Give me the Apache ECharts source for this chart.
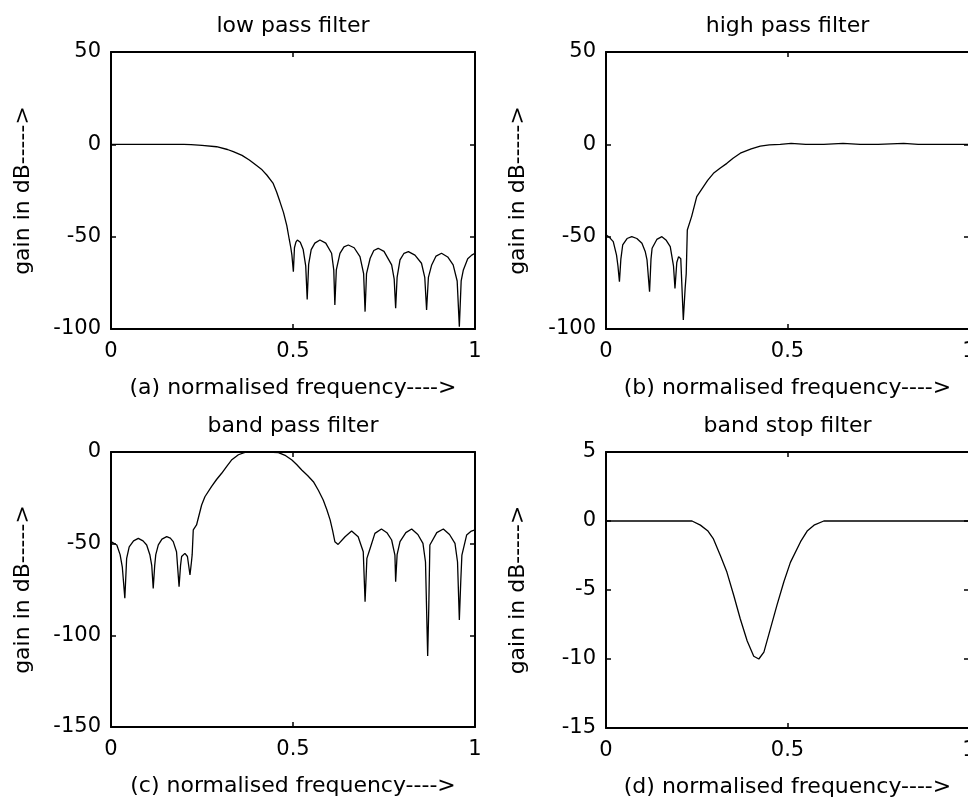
<!DOCTYPE html>
<html>
<head>
<meta charset="utf-8">
<script src="https://cdn.jsdelivr.net/npm/echarts@6/dist/echarts.min.js"></script>
<style>
html,body{margin:0;padding:0;background:#fff;overflow:hidden;}
#chart{width:968px;height:801px;}
</style>
</head>
<body>
<div id="chart"></div>
<script>
// ---- data ----
var titles = ['low pass filter', 'high pass filter', 'band pass filter', 'band stop filter'];
var xLabels = ['(a) normalised frequency---->', '(b) normalised frequency---->', '(c) normalised frequency---->', '(d) normalised frequency---->'];
var yLabel = 'gain in dB----->';
var xTicks = [0, 0.5, 1];
var yRanges = [[-100, 50, 50], [-100, 50, 50], [-150, 0, 50], [-15, 5, 5]];

var lowFreq = [0,0.05,0.10,0.15,0.20,0.22,0.25,0.29,0.32,0.336,0.36,0.38,0.40,0.415,0.428,0.445,0.455,0.464,0.474,0.483,0.49,0.494,0.497,0.501,0.504,0.508,0.512,0.52,0.528,0.535,0.539,0.543,0.55,0.56,0.574,0.59,0.606,0.612,0.615,0.619,0.629,0.64,0.652,0.668,0.684,0.694,0.698,0.702,0.712,0.722,0.734,0.75,0.771,0.778,0.782,0.786,0.794,0.805,0.817,0.835,0.853,0.862,0.867,0.872,0.881,0.893,0.908,0.925,0.94,0.951,0.957,0.962,0.968,0.98,0.991,1.0];
var lowGain = [0,0,0,0,0,-0.2,-0.6,-1.3,-2.8,-4,-6,-8.5,-11.5,-13.8,-16.6,-21,-25.8,-31,-37,-44,-51.8,-56,-60,-69,-56,-53,-51.8,-53,-57,-66,-84,-65,-57,-53.5,-51.8,-53.5,-59,-68,-87,-68,-59,-55.5,-54.5,-56,-60.8,-70,-90.6,-70,-61.7,-57.5,-56.3,-58,-65.3,-73,-88.8,-72,-62.6,-59,-58.1,-60,-64.4,-72,-89.7,-72,-65.3,-60.5,-59,-61,-65.3,-74,-98.7,-74,-68,-62,-60,-59];

var highFreq = [0,0.01,0.02,0.029,0.033,0.037,0.041,0.046,0.058,0.071,0.085,0.099,0.108,0.113,0.12,0.124,0.127,0.14,0.154,0.166,0.177,0.186,0.19,0.195,0.2,0.206,0.213,0.218,0.221,0.224,0.236,0.25,0.268,0.28,0.296,0.315,0.333,0.35,0.37,0.40,0.425,0.45,0.48,0.51,0.55,0.60,0.653,0.70,0.75,0.82,0.86,0.9,1.0];
var highGain = [-49,-50.5,-52.7,-60,-66,-74.4,-62,-54.5,-51,-50,-51,-53.6,-58,-62.6,-79.8,-62,-56.3,-51.5,-50,-52,-55.4,-66,-78,-64,-60.8,-62,-95.1,-78,-70,-46.4,-39,-28.3,-23,-19.5,-15.7,-12.8,-10.3,-7.5,-4.8,-2.5,-1.0,-0.3,0,0.5,0,0,0.5,0,0,0.5,0,0,0];

var bandFreq = [0,0.016,0.025,0.031,0.038,0.043,0.05,0.062,0.075,0.088,0.098,0.107,0.112,0.116,0.12,0.123,0.13,0.14,0.153,0.163,0.171,0.18,0.187,0.191,0.194,0.203,0.21,0.217,0.221,0.223,0.226,0.235,0.249,0.258,0.276,0.29,0.304,0.318,0.331,0.35,0.368,0.40,0.43,0.46,0.48,0.497,0.51,0.524,0.54,0.556,0.57,0.583,0.593,0.602,0.609,0.615,0.624,0.643,0.661,0.679,0.693,0.698,0.703,0.712,0.725,0.743,0.758,0.771,0.78,0.782,0.786,0.794,0.81,0.826,0.843,0.857,0.864,0.87,0.873,0.876,0.895,0.913,0.93,0.945,0.952,0.957,0.961,0.964,0.977,0.99,1.0];
var bandGain = [-48.9,-50.7,-56,-62.6,-79.8,-58,-51.7,-48.5,-47.1,-48.5,-50.7,-56.2,-62,-74.4,-62,-56,-50.7,-47.5,-46.2,-47,-48.9,-54.4,-73.5,-62,-57,-55.3,-57,-67.1,-60,-56,-42.5,-39.8,-28.9,-24.4,-18.9,-15,-11.6,-7.8,-4.4,-1.5,-0.2,0,0,-0.3,-2,-4.4,-6.8,-9.8,-12.8,-16.2,-21,-26.2,-31.5,-37,-43,-48.9,-50.4,-46.2,-43.1,-46.2,-54.4,-81.7,-58,-52.5,-44.4,-42,-44,-48,-56.2,-70.8,-56,-48.9,-44,-42,-45,-49.8,-60,-111.3,-85,-50.7,-44,-42,-45,-49.8,-60,-91.6,-70,-56.2,-45.3,-43.1,-42.5];

var stopFreq = [0,0.1,0.2,0.237,0.26,0.28,0.296,0.315,0.333,0.352,0.37,0.389,0.407,0.421,0.435,0.453,0.471,0.49,0.508,0.536,0.555,0.573,0.6,0.7,0.8,0.9,1.0];
var stopGain = [0,0,0,0,-0.3,-0.7,-1.3,-2.5,-3.7,-5.4,-7.1,-8.7,-9.8,-10,-9.5,-7.8,-6.1,-4.4,-3.0,-1.5,-0.7,-0.3,0,0,0,0,0];

var freqs = [lowFreq, highFreq, bandFreq, stopFreq];
var gains = [lowGain, highGain, bandGain, stopGain];

// ---- layout ----
var grids = [
  {left: 111, top: 52, width: 364, height: 277},
  {left: 606, top: 52, width: 363, height: 277},
  {left: 111, top: 452, width: 364, height: 275},
  {left: 606, top: 452, width: 363, height: 276}
];
var FONT = 'DejaVu Sans';
var txt = {color: '#000', fontFamily: FONT, fontSize: 21};

var xAxes = [], yAxes = [], series = [], titleArr = [];
grids.forEach(function (g, i) {
  var yr = yRanges[i];
  xAxes.push({
    type: 'value', gridIndex: i, position: 'bottom', min: xTicks[0], max: xTicks[2], interval: 0.5,
    axisLine: {show: true, onZero: false, lineStyle: {color: '#000', width: 2}},
    axisTick: {show: true, inside: true, length: 5, lineStyle: {color: '#000', width: 1.5}},
    axisLabel: Object.assign({margin: 12, hideOverlap: false, formatter: function (v) { return String(v); }}, txt),
    splitLine: {show: false},
    name: xLabels[i], nameLocation: 'middle', nameGap: 48,
    nameTextStyle: {color: '#000', fontFamily: FONT, fontSize: 22}
  });
  xAxes.push({
    type: 'value', gridIndex: i, position: 'top', min: xTicks[0], max: xTicks[2], interval: 0.5,
    axisLine: {show: true, onZero: false, lineStyle: {color: '#000', width: 2}},
    axisTick: {show: true, inside: true, length: 5, lineStyle: {color: '#000', width: 1.5}},
    axisLabel: {show: false}, splitLine: {show: false}
  });
  yAxes.push({
    type: 'value', gridIndex: i, position: 'left', min: yr[0], max: yr[1], interval: yr[2],
    axisLine: {show: true, onZero: false, lineStyle: {color: '#000', width: 2}},
    axisTick: {show: true, inside: true, length: 5, lineStyle: {color: '#000', width: 1.5}},
    axisLabel: Object.assign({margin: 10}, txt),
    splitLine: {show: false},
    name: yLabel, nameLocation: 'middle', nameGap: 77, nameRotate: 90,
    nameTextStyle: {color: '#000', fontFamily: FONT, fontSize: 22}
  });
  yAxes.push({
    type: 'value', gridIndex: i, position: 'right', min: yr[0], max: yr[1], interval: yr[2],
    axisLine: {show: true, onZero: false, lineStyle: {color: '#000', width: 2}},
    axisTick: {show: true, inside: true, length: 5, lineStyle: {color: '#000', width: 1.5}},
    axisLabel: {show: false}, splitLine: {show: false}
  });
  var d = freqs[i].map(function (f, k) { return [f, gains[i][k]]; });
  series.push({
    type: 'line', xAxisIndex: 2 * i, yAxisIndex: 2 * i, data: d,
    showSymbol: false, symbol: 'none', smooth: false,
    lineStyle: {color: '#000', width: 1.3}, silent: true, clip: true
  });
  titleArr.push({
    text: titles[i], left: g.left + g.width / 2, top: g.top - 37, textAlign: 'center', padding: 0,
    textStyle: {color: '#000', fontFamily: FONT, fontSize: 22, fontWeight: 'normal'}
  });
});

var chart = echarts.init(document.getElementById('chart'), null, {renderer: 'canvas'});
chart.setOption({
  animation: false,
  backgroundColor: '#fff',
  title: titleArr,
  grid: grids.map(function (g) { return Object.assign({containLabel: false, outerBoundsMode: 'none', show: false}, g); }),
  xAxis: xAxes,
  yAxis: yAxes,
  series: series
});
</script>
</body>
</html>
